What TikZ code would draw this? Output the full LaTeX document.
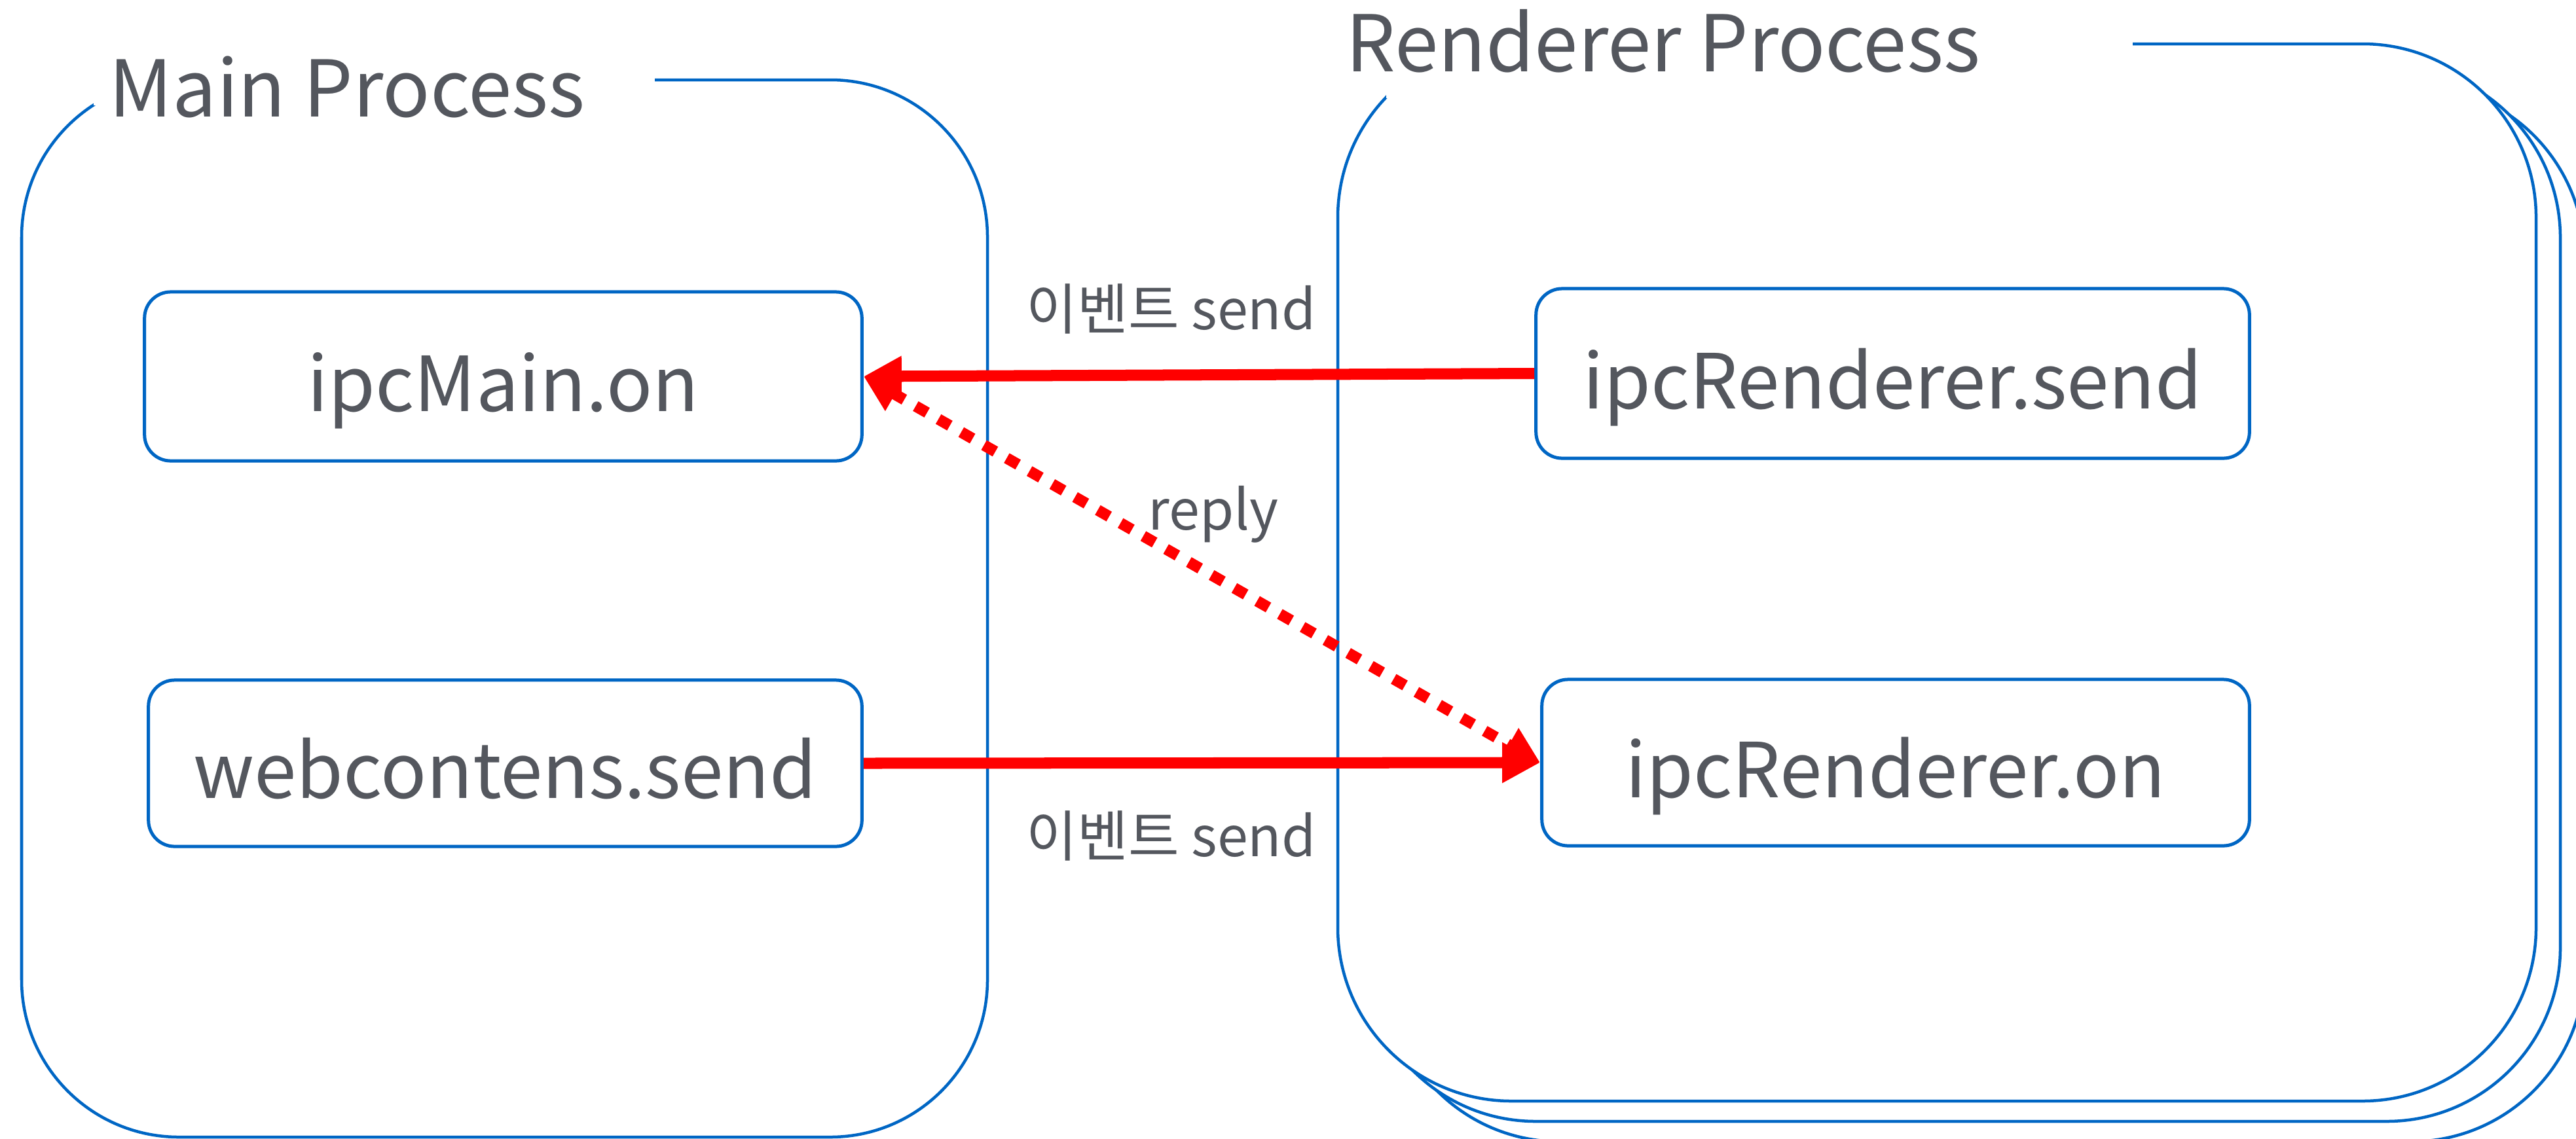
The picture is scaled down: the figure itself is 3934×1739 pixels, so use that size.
\documentclass[tikz,border=0pt]{standalone}
\usepackage{fontspec}
\setmainfont{Noto Sans CJK KR}
\usetikzlibrary{arrows.meta}
\definecolor{boxblue}{RGB}{0,102,196}
\definecolor{txtgray}{RGB}{84,87,94}
\definecolor{arrred}{RGB}{255,0,0}
\begin{document}
\begin{tikzpicture}[x=0.01cm,y=-0.01cm,
  container/.style={draw=boxblue, line width=0.045cm, fill=white},
  ibox/.style={draw=boxblue, line width=0.05cm, rounded corners=0.4cm, fill=white,
    text=txtgray, font=\fontsize{33}{40}\selectfont, inner sep=0pt,
    text height=1.07cm, text depth=0cm},
  ptitle/.style={text=txtgray, font=\fontsize{34}{40}\selectfont, inner sep=0pt, anchor=base west},
  lbl/.style={text=txtgray, font=\fontsize{24}{30}\selectfont, inner sep=0pt},
  redarrow/.style={draw=arrred, line width=0.17cm},
]
\useasboundingbox (0,0) rectangle (3934,1739);
\begin{scope}
\clip (0,0) rectangle (3934,1739);
% renderer process stack
\draw[container, rounded corners=2.65cm] (2117,129) rectangle (3947,1744);
\draw[container, rounded corners=2.65cm] (2080,98) rectangle (3910,1713);
\draw[container, rounded corners=2.65cm] (2043,67) rectangle (3873,1682);
\fill[white] (2117,0) rectangle (3257,150);
% main process
\draw[container, rounded corners=2.4cm] (33,122) rectangle (1508,1737);
\fill[white] (143,0) rectangle (1000,161);
\end{scope}

\node[ptitle] (mainT) at (166,178) {Main Process};
\node[ptitle] (rendT) at (2055,109) {Renderer Process};

\node[ibox, minimum width=10.95cm, minimum height=2.58cm] (imo) at (768.5,575) {ipcMain.on};
\node[ibox, minimum width=10.89cm, minimum height=2.54cm] (wcs) at (771.5,1166) {webcontens.send};
\node[ibox, minimum width=10.89cm, minimum height=2.59cm] (irs) at (2890.5,570.5) {ipcRenderer.send};
\node[ibox, minimum width=10.80cm, minimum height=2.54cm] (iro) at (2895,1165) {ipcRenderer.on};

\draw[redarrow, -{Triangle[length=0.58cm,width=0.58cm]}] (irs.west) -- (imo.east);
\draw[redarrow, -{Triangle[length=0.58cm,width=0.58cm]}] (wcs.east) -- (iro.west);
\draw[redarrow, dash pattern=on 0.2cm off 0.2cm,
  {Triangle[length=0.55cm,width=0.55cm]}-{Triangle[length=0.55cm,width=0.55cm]}] (imo.east) -- (iro.west);

\node[lbl, anchor=base west] (l1) at (1567,503) {이벤트 send};
\node[lbl, anchor=base west] (l2) at (1567,1308) {이벤트 send};
\node[lbl, anchor=base] (l3) at (1853,809) {reply};
\end{tikzpicture}
\end{document}
